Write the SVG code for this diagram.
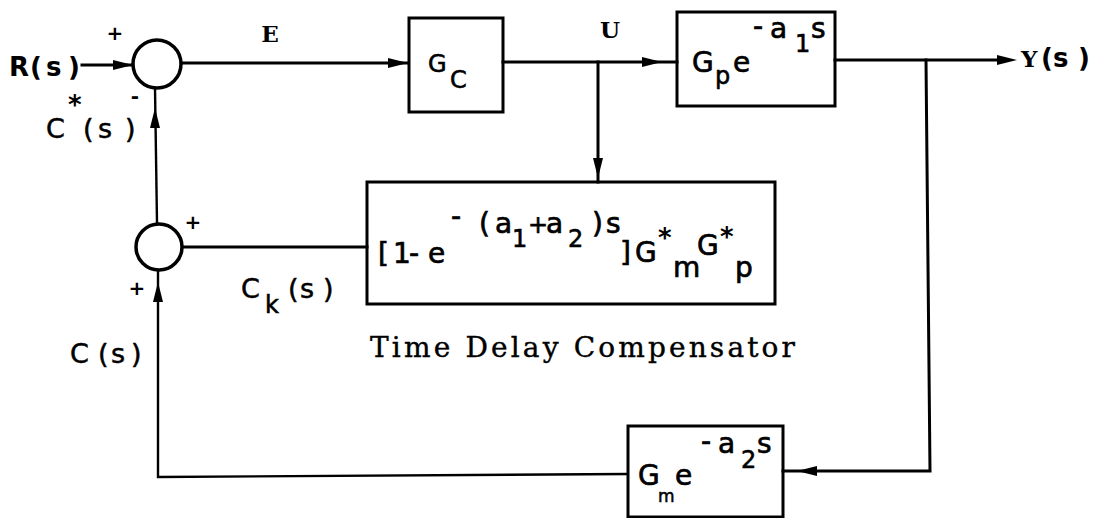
<svg xmlns="http://www.w3.org/2000/svg" xmlns:xlink="http://www.w3.org/1999/xlink" width="1095" height="518" viewBox="0 0 1095 518">
<style>
.bx{fill:none;stroke:#000;stroke-width:3}
.sj{fill:#fff;stroke:#000;stroke-width:3.5}
.ln{fill:none;stroke:#000;stroke-width:3;stroke-linecap:square}
.thin{fill:none;stroke:#000;stroke-width:2.4}
.m{font-family:"DejaVu Sans",sans-serif;font-size:28px;fill:#000;stroke:#000;stroke-width:0.7}
.ms{font-family:"DejaVu Sans",sans-serif;font-size:24px;fill:#000;stroke:#000;stroke-width:0.6}
.sub{font-family:"DejaVu Sans",sans-serif;font-size:17px;fill:#000;stroke:#000;stroke-width:0.5}
.lb{font-family:"DejaVu Sans",sans-serif;font-size:27px;fill:#000;stroke:#000;stroke-width:0.5}
.bd{font-family:"DejaVu Sans",sans-serif;font-size:26px;font-weight:bold;fill:#000}
.st{font-family:"DejaVu Sans",sans-serif;font-size:26px;font-weight:bold;fill:#000}
.tw{font-family:"DejaVu Serif",serif;font-weight:bold;font-size:23px;fill:#000}
.cap{font-family:"DejaVu Serif",serif;font-size:28px;fill:#000;stroke:#000;stroke-width:0.4}
.sg{font-family:"DejaVu Sans",sans-serif;font-weight:bold;font-size:20px;fill:#000;text-anchor:middle}
</style>
<defs>
<path id="ah" d="M0,0 L-20,-5 L-20,5 Z" fill="#000"/>
</defs>
<rect width="1095" height="518" fill="#fff"/>

<g id="connectors">
<line class="ln" x1="82" y1="65" x2="133" y2="65"/>
<use xlink:href="#ah" href="#ah" transform="translate(133,65)"/>
<line class="ln" x1="181" y1="63" x2="408" y2="63"/>
<use xlink:href="#ah" href="#ah" transform="translate(408,63)"/>
<line class="ln" x1="503" y1="62" x2="677" y2="62"/>
<use xlink:href="#ah" href="#ah" transform="translate(662,62)"/>
<line class="ln" x1="598" y1="62" x2="598" y2="182"/>
<use xlink:href="#ah" href="#ah" transform="translate(598,178) rotate(90)"/>
<line class="ln" x1="835" y1="60" x2="1000" y2="60"/>
<use xlink:href="#ah" href="#ah" transform="translate(1017,60)"/>
<polyline class="ln" points="926,60 930,471 783,471"/>
<use xlink:href="#ah" href="#ah" transform="translate(797,471) rotate(180)"/>
<polyline class="thin" points="628,474 158,477 158,270"/>
<use xlink:href="#ah" href="#ah" transform="translate(158,282) rotate(-90)"/>
<line class="ln" x1="183" y1="247" x2="367" y2="247"/>
<line class="thin" x1="157" y1="223" x2="155" y2="88"/>
<use xlink:href="#ah" href="#ah" transform="translate(155,108) rotate(-90)"/>
</g>

<g id="sum1">
<circle class="sj" cx="157" cy="64" r="24"/>
<text class="sg" x="115" y="40">+</text>
<text class="sg" x="135" y="103">-</text>
</g>
<g id="sum2">
<circle class="sj" cx="159" cy="247" r="23"/>
<text class="sg" x="193" y="229">+</text>
<text class="sg" x="137" y="295">+</text>
</g>

<g id="Gc">
<rect class="bx" x="409" y="18" width="94" height="94"/>
<text class="ms" x="428" y="72">G</text>
<text class="ms" x="450" y="88">C</text>
</g>

<g id="Gp">
<rect class="bx" x="677" y="12" width="158" height="94"/>
<text class="m" x="692" y="72">G</text>
<text class="ms" x="715" y="84">p</text>
<text class="m" x="733" y="72">e</text>
<text class="m" x="753" y="36">-</text>
<text class="m" x="770" y="38">a</text>
<text class="ms" x="795" y="52">1</text>
<text class="m" x="811" y="38">s</text>
</g>

<g id="compensator">
<rect class="bx" x="367" y="182" width="408" height="122"/>
<text class="m" x="378 393 409 428" y="263">[1-e</text>
<text class="m" x="451" y="226">-</text>
<text class="m" x="479 495" y="233">(a</text>
<text class="ms" x="512" y="247">1</text>
<text class="ms" x="528" y="233" font-size="20">+</text>
<text class="m" x="546" y="233">a</text>
<text class="ms" x="568" y="247">2</text>
<text class="m" x="592 606" y="233">)s</text>
<text class="m" x="620 635" y="262">]G</text>
<text class="st" x="658" y="247">*</text>
<text class="m" x="673" y="277">m</text>
<text class="m" x="697" y="255">G</text>
<text class="st" x="720" y="246">*</text>
<text class="m" x="735" y="277">p</text>
<text class="cap" x="370" y="357" textLength="425" lengthAdjust="spacing">Time Delay Compensator</text>
</g>

<g id="Gm">
<rect class="bx" x="628" y="426" width="155" height="91"/>
<text class="m" x="638" y="485" font-size="26">G</text>
<text class="sub" x="658" y="502">m</text>
<text class="m" x="675" y="485">e</text>
<text class="m" x="701" y="451">-</text>
<text class="m" x="718" y="453">a</text>
<text class="ms" x="741" y="468">2</text>
<text class="m" x="757" y="453">s</text>
</g>

<g id="labels">
<text class="bd" x="9 30 46 68" y="76">R(s)</text>
<text class="tw" x="270" y="42" text-anchor="middle">E</text>
<text class="tw" x="610" y="38" text-anchor="middle">U</text>
<text class="tw" x="1021" y="67">Y</text>
<text class="bd" x="1041 1053 1078" y="67" font-size="24">(s)</text>
<text class="lb" x="46" y="138">C</text>
<text class="st" x="68" y="114">*</text>
<text class="lb" x="83 98 125" y="138">(s)</text>
<text class="lb" x="241" y="298">C</text>
<text class="ms" x="265" y="313">k</text>
<text class="lb" x="288 300 323" y="298">(s)</text>
<text class="lb" x="70 98 111 131" y="363">C(s)</text>
</g>
</svg>
